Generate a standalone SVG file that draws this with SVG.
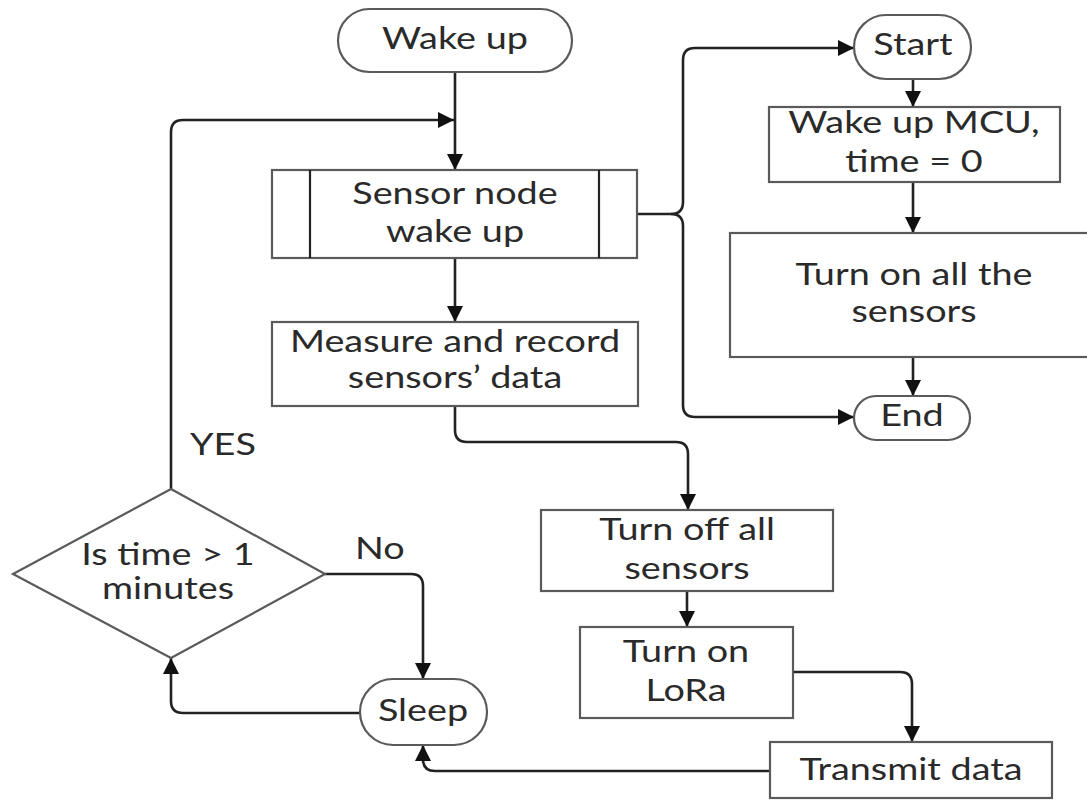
<svg xmlns="http://www.w3.org/2000/svg" width="1087" height="800" viewBox="0 0 1087 800">
<defs>
<style>
.n{fill:#fff;stroke:#5a5a5a;stroke-width:2.2}
.in{stroke:#222;stroke-width:2.2}
.c{fill:none;stroke:#222;stroke-width:2.6}
text{font-family:Lato,"Liberation Sans",sans-serif;font-size:30px;fill:#2a2a2a;text-anchor:middle}
.l{text-anchor:start}
</style>
<marker id="a" markerUnits="userSpaceOnUse" markerWidth="18" markerHeight="18" refX="16" refY="8" orient="auto">
<path d="M0,0 L16,8 L0,16 Z" fill="#111"/>
</marker>
</defs>
<g id="connectors">
<path class="c" d="M455,73 V170" marker-end="url(#a)"/>
<path class="c" d="M171,489 V132 Q171,120 183,120 H454" marker-end="url(#a)"/>
<path class="c" d="M455,258 V322" marker-end="url(#a)"/>
<path class="c" d="M638,214 H671 Q683,214 683,202 V60 Q683,48 695,48 H854" marker-end="url(#a)"/>
<path class="c" d="M671,214 Q683,214 683,226 V405 Q683,417 695,417 H854" marker-end="url(#a)"/>
<path class="c" d="M913,79 V107" marker-end="url(#a)"/>
<path class="c" d="M913,182 V233" marker-end="url(#a)"/>
<path class="c" d="M913,357 V396" marker-end="url(#a)"/>
<path class="c" d="M455,406 V430 Q455,442 467,442 H676 Q688,442 688,454 V510" marker-end="url(#a)"/>
<path class="c" d="M687,591 V627" marker-end="url(#a)"/>
<path class="c" d="M793,672 H900 Q912,672 912,684 V742" marker-end="url(#a)"/>
<path class="c" d="M770,771 H435 Q423,771 423,759 V745" marker-end="url(#a)"/>
<path class="c" d="M325,574 H411 Q423,574 423,586 V679" marker-end="url(#a)"/>
<path class="c" d="M360,713 H183 Q171,713 171,701 V658" marker-end="url(#a)"/>
</g>
<g id="wakeup">
<rect class="n" x="338" y="9" width="234" height="63" rx="31.5"/>
<text x="455" y="49" transform="translate(-118.3,0) scale(1.26,1)">Wake up</text>
</g>
<g id="sensor-node">
<rect class="n" x="272" y="170" width="365" height="88"/>
<line class="in" x1="310" y1="170" x2="310" y2="258"/>
<line class="in" x1="599" y1="170" x2="599" y2="258"/>
<text x="455" y="204" transform="translate(-118.3,0) scale(1.26,1)">Sensor node</text>
<text x="455" y="242" transform="translate(-118.3,0) scale(1.26,1)">wake up</text>
</g>
<g id="measure">
<rect class="n" x="272" y="322" width="366" height="84"/>
<text x="455" y="352" transform="translate(-118.3,0) scale(1.26,1)">Measure and record</text>
<text x="455" y="388" transform="translate(-118.3,0) scale(1.26,1)">sensors’ data</text>
</g>
<g id="start">
<rect class="n" x="854" y="15" width="117" height="64" rx="32"/>
<text x="913" y="55" transform="translate(-237.38,0) scale(1.26,1)">Start</text>
</g>
<g id="wake-mcu">
<rect class="n" x="769" y="107" width="291" height="75"/>
<text x="914" y="133" transform="translate(-237.64,0) scale(1.26,1)">Wake up MCU,</text>
<text x="914" y="172" transform="translate(-237.64,0) scale(1.26,1)">time = 0</text>
</g>
<g id="turn-on-all">
<rect class="n" x="730" y="233" width="370" height="124"/>
<text x="914" y="285" transform="translate(-237.64,0) scale(1.26,1)">Turn on all the</text>
<text x="914" y="322" transform="translate(-237.64,0) scale(1.26,1)">sensors</text>
</g>
<g id="end">
<rect class="n" x="854" y="396" width="116" height="44" rx="22"/>
<text x="912" y="426" transform="translate(-237.12,0) scale(1.26,1)">End</text>
</g>
<g id="decision">
<polygon class="n" points="171,489 325,574 171,658 13,574"/>
<text x="168" y="565" transform="translate(-43.68,0) scale(1.26,1)">Is time &gt; 1</text>
<text x="168" y="599" transform="translate(-43.68,0) scale(1.26,1)">minutes</text>
</g>
<g id="labels">
<text class="l" x="190" y="455" transform="translate(-49.4,0) scale(1.26,1)">YES</text>
<text class="l" x="355" y="559" transform="translate(-92.3,0) scale(1.26,1)">No</text>
</g>
<g id="sleep">
<rect class="n" x="360" y="679" width="127" height="66" rx="33"/>
<text x="423" y="721" transform="translate(-109.98,0) scale(1.26,1)">Sleep</text>
</g>
<g id="turn-off">
<rect class="n" x="541" y="510" width="292" height="81"/>
<text x="687" y="540" transform="translate(-178.62,0) scale(1.26,1)">Turn off all</text>
<text x="687" y="579" transform="translate(-178.62,0) scale(1.26,1)">sensors</text>
</g>
<g id="lora">
<rect class="n" x="580" y="627" width="213" height="91"/>
<text x="686" y="662" transform="translate(-178.36,0) scale(1.26,1)">Turn on</text>
<text x="686" y="701" transform="translate(-178.36,0) scale(1.26,1)">LoRa</text>
</g>
<g id="transmit">
<rect class="n" x="770" y="742" width="282" height="56"/>
<text x="911" y="780" transform="translate(-236.86,0) scale(1.26,1)">Transmit data</text>
</g>
</svg>
